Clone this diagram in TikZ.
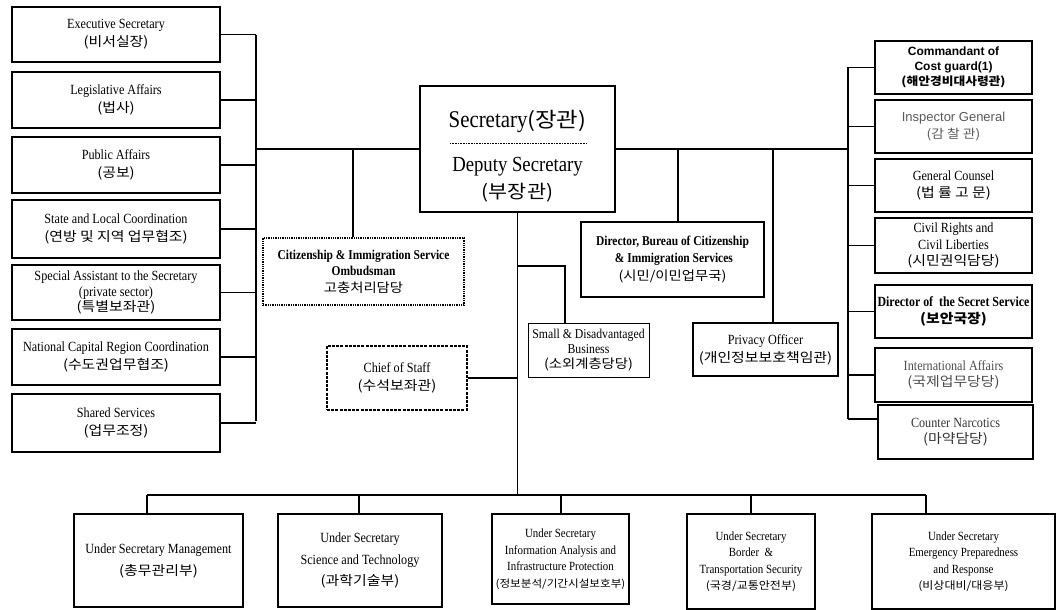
\documentclass[tikz,border=0pt]{standalone}
\usepackage{fontspec}
\setmainfont{Liberation Serif}[FakeStretch=0.87, BoldFeatures={FakeStretch=0.85}]
\newfontfamily\krf{Noto Sans CJK KR}[Scale=0.95, FakeStretch=1.12]
\newfontfamily\arf{Liberation Sans}
\newcommand\K[1]{{\krf #1}}
\newcommand\KS[2]{{\krf\fontsize{#1}{16.5}\selectfont #2}}
\begin{document}
\begin{tikzpicture}[x=1pt,y=-1pt,
  box/.style={draw, line width=1.2pt, align=center, inner sep=0pt, font=\fontsize{14}{18}\selectfont},
  sbox/.style={box, font=\fontsize{14}{15.5}\selectfont},
  rbox/.style={box, font=\fontsize{14}{16.5}\selectfont},
  ubox/.style={box, font=\fontsize{14}{22}\selectfont},
  uboxs/.style={box, font=\fontsize{12.5}{16.5}\selectfont},
  dotbox/.style={box, line width=1.3pt, densely dotted},
  dashbox/.style={box, line width=1.3pt, dash pattern=on 3pt off 1.2pt},
  wire/.style={line width=1.4pt},
  gtxt/.style={text=black!70}]
\useasboundingbox (0,0) rectangle (1058,610);

% left column
\node[box, minimum width=208pt, minimum height=55pt] (exec) at (116,34.5) {Executive Secretary\\\K{(비서실장)}};
\node[box, minimum width=208pt, minimum height=56pt] (legis) at (116,100) {Legislative Affairs\\\K{(법사)}};
\node[box, minimum width=208pt, minimum height=56pt] (pub) at (116,165) {Public Affairs\\\K{(공보)}};
\node[box, minimum width=208pt, minimum height=58pt] (state) at (116,229) {State and Local Coordination\\\K{(연방 및 지역 업무협조)}};
\node[sbox, minimum width=208pt, minimum height=55pt] (spec) at (116,292.5) {Special Assistant to the Secretary\\(private sector)\\\K{(특별보좌관)}};
\node[box, minimum width=208pt, minimum height=56pt] (ncr) at (116,357) {National Capital Region Coordination\\\K{(수도권업무협조)}};
\node[box, minimum width=208pt, minimum height=58pt] (shared) at (116,423) {Shared Services\\\K{(업무조정)}};

% secretary
\node[draw, line width=1.2pt, minimum width=195pt, minimum height=126pt, inner sep=0pt] (sec) at (517.5,149) {};
\node[font=\fontsize{24}{26}\selectfont, inner sep=0pt] (secA) at (517.5,121) {Secretary{\krf\fontsize{22}{26}\selectfont(장관)}};
\node[font=\fontsize{21.5}{24}\selectfont, inner sep=0pt] (secB) at (517.5,167) {Deputy Secretary};
\node[font=\fontsize{19.5}{24}\selectfont, inner sep=0pt] (secC) at (517.5,193) {\K{(부장관)}};
\draw[line width=0.4pt, dash pattern=on 1pt off 0.6pt] (450,143) -- (587,143);

% right column
\node[box, minimum width=157pt, minimum height=53pt, font=\arf\bfseries\fontsize{12}{15}\selectfont] (cmd) at (953.5,67.5) {Commandant of\\ Cost guard(1)\\\K{(해안경비대사령관)}};
\node[box, minimum width=157pt, minimum height=53pt, font=\arf\fontsize{13}{17}\selectfont, text=black!65] (insp) at (953.5,126.5) {Inspector General\\\K{(감 찰 관)}};
\node[rbox, minimum width=157pt, minimum height=53pt] (gc) at (953.5,185.5) {General Counsel\\\K{(법 률 고 문)}};
\node[rbox, minimum width=157pt, minimum height=55pt] (civ) at (953.5,245.5) {Civil Rights and\\Civil Liberties\\\K{(시민권익담당)}};
\node[rbox, minimum width=157pt, minimum height=53pt, font=\bfseries\fontsize{14}{17.5}\selectfont] (ss) at (953.5,311.5) {Director of \ the Secret Service\\\K{(보안국장)}};
\node[rbox, minimum width=157pt, minimum height=54pt, gtxt] (intl) at (953.5,375) {International Affairs\\\K{(국제업무당당)}};
\node[rbox, minimum width=155pt, minimum height=54pt, text=black!80] (cn) at (955.5,432) {Counter Narcotics\\\K{(마약담당)}};

% middle boxes
\node[dotbox, minimum width=201pt, minimum height=67pt, font=\bfseries\fontsize{13.5}{16.5}\selectfont] (omb) at (363.5,271.5) {Citizenship \& Immigration Service\\Ombudsman\\\K{\mdseries 고충처리담당}};
\node[box, minimum width=183pt, minimum height=75pt, font=\bfseries\fontsize{13.5}{17.5}\selectfont] (dir) at (672.5,259.5) {Director, Bureau of Citizenship\\\ \& Immigration Services\\\K{\mdseries (시민/이민업무국)}};
\node[sbox, line width=1pt, minimum width=121pt, minimum height=54pt, font=\fontsize{13.5}{15}\selectfont] (small) at (588.5,350) {Small \& Disadvantaged\\Business\\\K{(소외계층당당)}};
\node[box, minimum width=145pt, minimum height=53pt] (priv) at (765.5,349.5) {Privacy Officer\\\K{(개인정보보호책임관)}};
\node[dashbox, minimum width=140pt, minimum height=64pt] (chief) at (397,378) {Chief of Staff\\\K{(수석보좌관)}};

% bottom row
\node[ubox, minimum width=169pt, minimum height=93pt] (us1) at (158.5,560.5) {Under Secretary Management\\\K{(총무관리부)}};
\node[ubox, minimum width=164pt, minimum height=93pt, font=\fontsize{14}{21.5}\selectfont] (us2) at (360,560.5) {Under Secretary\\Science and Technology\\\K{(과학기술부)}};
\node[uboxs, minimum width=137pt, minimum height=90pt] (us3) at (560.5,559) {Under Secretary\\Information Analysis and\\Infrastructure Protection\\\KS{10.9}{(정보분석/기간시설보호부)}};
\node[uboxs, minimum width=128pt, minimum height=95pt] (us4) at (751,561.5) {Under Secretary\\Border \ \&\\Transportation Security\\\KS{11.3}{(국경/교통안전부)}};
\node[uboxs, minimum width=183pt, minimum height=95pt] (us5) at (963.5,561.5) {Under Secretary\\Emergency Preparedness\\and Response\\\KS{11.3}{(비상대비/대응부)}};

% left bus
\coordinate (lbt) at (256,35);
\coordinate (lbb) at (256,421);
\coordinate (lh) at (256,149);
\draw[wire] (lbt) -- (lbb);
\foreach \n in {exec,legis,pub,state,spec,ncr,shared}
  \draw[wire] (\n.east) -- (\n.east -| lbt);
\draw[wire] (lh) -- (sec.west);

% right bus
\coordinate (rbt) at (848,67.5);
\coordinate (rbb) at (848,419);
\coordinate (rh) at (848,149);
\coordinate (cnin) at (878,419);
\draw[wire] (rbt) -- (rbb);
\draw[wire] (sec.east) -- (rh);
\foreach \n in {cmd,insp,gc,civ,ss,intl}
  \draw[wire] (\n.west -| rbt) -- (\n.west);
\draw[wire] (rbb) -- (cnin);

% drops from the main line
\coordinate (o1) at (353,149);
\draw[wire] (o1) -- (o1 |- omb.north);
\coordinate (d1) at (678,149);
\draw[wire] (d1) -- (d1 |- dir.north);
\coordinate (p1) at (773,149);
\draw[wire] (p1) -- (p1 |- priv.north);

% trunk
\coordinate (tb) at (517.5,495);
\draw[wire] (sec.south) -- (tb);
\coordinate (s1) at (517.5,266);
\coordinate (s2) at (565,266);
\draw[wire] (s1) -- (s2) -- (s2 |- small.north);
\draw[wire] (chief.east) -- (chief.east -| tb);

% bottom bus
\coordinate (b1) at (147,495);
\coordinate (b2) at (359,495);
\coordinate (b3) at (561,495);
\coordinate (b4) at (751,495);
\coordinate (b5) at (926,495);
\draw[wire] (b1) -- (b5);
\draw[wire] (b1) -- (b1 |- us1.north);
\draw[wire] (b2) -- (b2 |- us2.north);
\draw[wire] (b3) -- (b3 |- us3.north);
\draw[wire] (b4) -- (b4 |- us4.north);
\draw[wire] (b5) -- (b5 |- us5.north);
\end{tikzpicture}
\end{document}
